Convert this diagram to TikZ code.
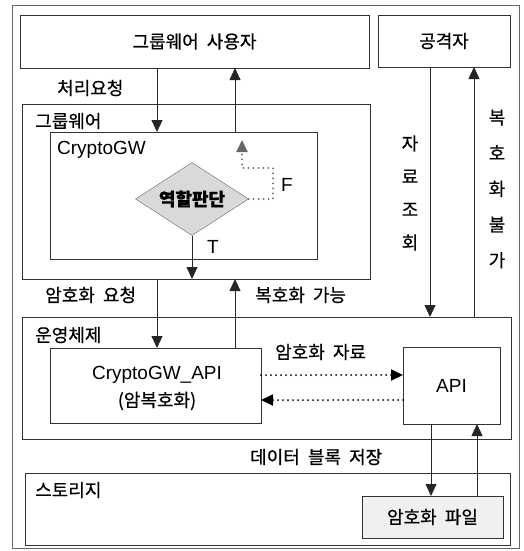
\documentclass[tikz,border=0pt]{standalone}
\usepackage{fontspec}
\setmainfont[WordSpace=2,FakeBold=0.6]{Noto Sans CJK KR}
\newfontfamily\lat{Liberation Sans}
\usetikzlibrary{arrows.meta,shapes.geometric}
\newcommand\korfont{\fontsize{18}{21}\selectfont}
\newcommand\latfont{\lat\fontsize{19}{22}\selectfont}
\tikzset{
 box/.style={draw=black!80, line width=0.8pt, anchor=north west, inner sep=0pt, outer sep=0pt},
 lbl/.style={anchor=west, inner sep=0pt, font=\korfont},
 arr/.style={draw=black!85, line width=0.8pt, -{Triangle[width=11pt,length=12pt]}},
 darr/.style={draw=black, line width=2pt, dash pattern=on 0pt off 5pt, line cap=round, -{Triangle[width=11pt,length=12pt]}}
}
\begin{document}
\begin{tikzpicture}[x=1pt,y=-1pt]
\useasboundingbox (0,0) rectangle (523,551);
\node[box, draw=black!60, minimum width=507pt, minimum height=543pt] (outer) at (12,5) {};
\node[box, minimum width=349pt, minimum height=53pt, font=\korfont] (user) at (20,15) {그룹웨어 사용자};
\node[box, minimum width=132pt, minimum height=52pt, font=\korfont] (att) at (378,15) {공격자};
\node[box, minimum width=348pt, minimum height=175pt] (gw) at (22,104) {};
\node[box, minimum width=267pt, minimum height=127pt] (cgw) at (50,132) {};
\node[box, minimum width=489pt, minimum height=122pt] (os) at (22,317) {};
\node[box, minimum width=211pt, minimum height=75pt] (api1) at (50,348) {};
\node[box, minimum width=97pt, minimum height=77pt, font=\latfont] (api2) at (403,347) {API};
\node[box, minimum width=485pt, minimum height=72pt] (st) at (25,473) {};
\node[box, minimum width=141pt, minimum height=42pt, fill=gray!12, font=\korfont] (file) at (362,496) {암호화 파일};

\node[lbl] (lgw) at (35,121) {그룹웨어};
\node[lbl, font=\latfont] (lcgw) at (57,150) {CryptoGW};
\node[lbl] (los) at (35,335) {운영체제};
\node[lbl] (lst) at (35,490) {스토리지};
\node[lbl] (l1) at (57,88) {처리요청};
\node[lbl] (l2) at (45,295) {암호화 요청};
\node[lbl] (l3) at (255,295) {복호화 가능};
\node[lbl] (l4) at (275,352) {암호화 자료};
\node[lbl] (l5) at (250,457) {데이터 블록 저장};
\node[font=\latfont, inner sep=0pt] (capi) at (157,375) {CryptoGW\_API};
\node[font=\korfont, inner sep=0pt] (cdec) at (157,401) {(암복호화)};
\node[align=center, font=\fontsize{18}{33}\selectfont, inner sep=0pt] (v1) at (410,193) {자\\료\\조\\회};
\node[align=center, font=\fontsize{18}{35.7}\selectfont, inner sep=0pt] (v2) at (497,189) {복\\호\\화\\불\\가};

\node[diamond, draw=black!60, fill=gray!30, aspect=1.55, minimum width=113pt, minimum height=73pt, inner sep=0pt, font=\korfont\bfseries] (dec) at (192,199) {역할판단};
\node[font=\latfont, inner sep=0pt] (T) at (213,247) {T};
\node[font=\latfont, inner sep=0pt] (F) at (287,185) {F};

\coordinate (xa) at (157,0);
\coordinate (xb) at (235,0);
\coordinate (xc) at (430,0);
\coordinate (xd) at (474,0);
\coordinate (xe) at (431,0);
\coordinate (xf) at (477,0);
\coordinate (ya) at (0,375);
\coordinate (yb) at (0,400);
\coordinate (fc) at (273,168);
\coordinate (fe) at (242,140);

\draw[arr] (xa |- user.south) -- (xa |- cgw.north);
\draw[arr] (xb |- cgw.north) -- (xb |- user.south);
\draw[arr] (dec.south) -- (dec.south |- gw.south);
\draw[arr] (xa |- gw.south) -- (xa |- api1.north);
\draw[arr] (xb |- api1.north) -- (xb |- gw.south);
\draw[arr] (xc |- att.south) -- (xc |- os.north);
\draw[arr] (xd |- os.north) -- (xd |- att.south);
\draw[darr] (api1.east |- ya) -- (api2.west |- ya);
\draw[darr] (api2.west |- yb) -- (api1.east |- yb);
\draw[arr] (xe |- api2.south) -- (xe |- file.north);
\draw[arr] (xf |- file.north) -- (xf |- api2.south);
\draw[darr, draw=black!60] (dec.east) -| (fc) -| (fe);
\end{tikzpicture}
\end{document}
